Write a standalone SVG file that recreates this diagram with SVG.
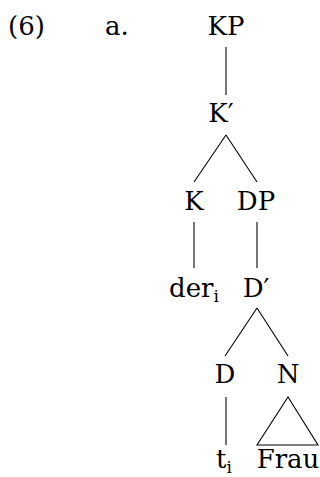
<svg xmlns="http://www.w3.org/2000/svg" width="320" height="477" viewBox="0 0 320 477">
<style>
text{font-family:'DejaVu Serif','Liberation Serif','Noto Serif',serif;font-size:26px;fill:#000}
.m{text-anchor:middle}
.sub{font-size:17px}
#edges line,#edges polygon{stroke:#000;stroke-width:1.1;fill:none}
</style>
<rect width="320" height="477" fill="#fff"/>
<text x="8" y="35">(6)</text>
<text x="105" y="35">a.</text>
<g id="edges">
<line x1="226" y1="47" x2="226" y2="95"/>
<line x1="226" y1="135" x2="194" y2="182"/>
<line x1="226" y1="135" x2="257" y2="182"/>
<line x1="194" y1="222" x2="194" y2="268"/>
<line x1="257" y1="222" x2="257" y2="268"/>
<line x1="257" y1="308" x2="225" y2="356"/>
<line x1="257" y1="308" x2="288" y2="356"/>
<line x1="226" y1="397" x2="226" y2="445"/>
<polygon points="288,397 257,445 318,445"/>
</g>
<g id="KP"><text class="m" x="226" y="35">KP</text></g>
<g id="Kbar"><text class="m" x="221" y="122">K′</text></g>
<g id="K"><text class="m" x="194" y="210">K</text></g>
<g id="DP"><text class="m" x="256" y="210">DP</text></g>
<g id="der"><text class="m" x="194" y="297">der<tspan class="sub" dy="5">i</tspan></text></g>
<g id="Dbar"><text class="m" x="256" y="297">D′</text></g>
<g id="D"><text class="m" x="225" y="383">D</text></g>
<g id="N"><text class="m" x="288" y="383">N</text></g>
<g id="t"><text class="m" x="224" y="468">t<tspan class="sub" dy="5">i</tspan></text></g>
<g id="Frau"><text class="m" x="288" y="468">Frau</text></g>
</svg>
